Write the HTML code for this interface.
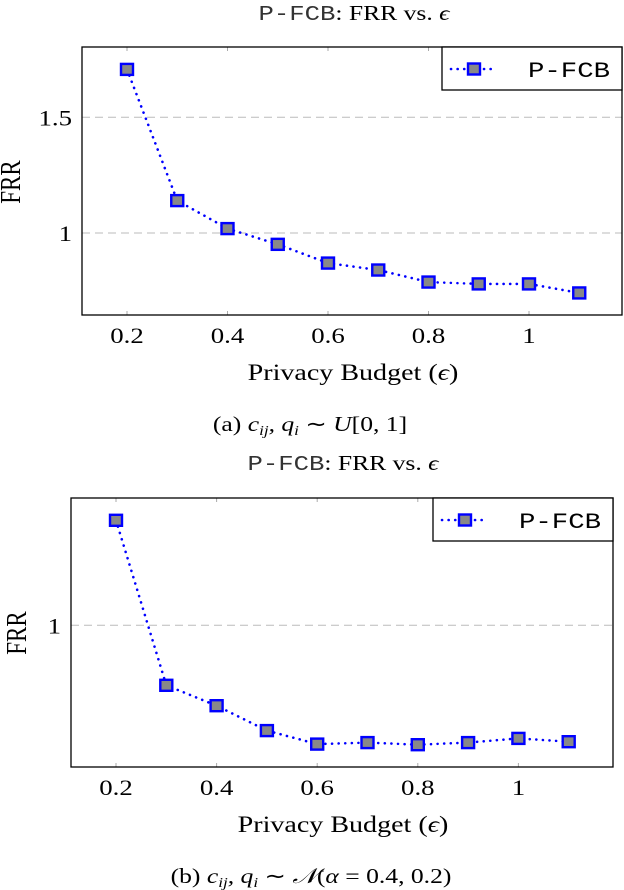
<!DOCTYPE html>
<html><head><meta charset="utf-8"><style>
body{margin:0;background:#fff;width:624px;height:890px;overflow:hidden}
svg{display:block}
text{font-family:"Liberation Serif",serif;fill:#000}
.mono{font-family:"Liberation Mono",monospace}
</style></head><body>
<svg id="svg" width="624" height="890" xmlns="http://www.w3.org/2000/svg"></svg>
<script>
const categories = [0.2,0.3,0.4,0.5,0.6,0.7,0.8,0.9,1.0,1.1];
const seriesA = [1.707,1.14,1.019,0.951,0.870,0.840,0.788,0.780,0.780,0.741];
const seriesB = [1.35,0.80,0.732,0.649,0.604,0.609,0.602,0.609,0.623,0.612];
const xTicks = [0.2,0.4,0.6,0.8,1];
const xTickLabels = ["0.2","0.4","0.6","0.8","1"];
const yTicksA = [1,1.5];
const yTickLabelsA = ["1","1.5"];
const yTicksB = [1];
const yTickLabelsB = ["1"];

const NS="http://www.w3.org/2000/svg";
const svg=document.getElementById('svg');
const SX=1.22;
function mk(tag,attrs,parent,txt){const e=document.createElementNS(NS,tag);for(const k in attrs)e.setAttribute(k,attrs[k]);if(txt!==undefined)e.textContent=txt;(parent||svg).appendChild(e);return e;}
function T(parent,x,y,anchor,size,txt,extra){
  const t=mk('text',Object.assign({x:0,y:0,'text-anchor':anchor,'font-size':size,transform:`translate(${x},${y}) scale(${SX},1)`},extra||{}),parent,txt);
  return t;
}

function chart(cfg){
  const g=mk('g',{});
  
  
  const xs=v=>cfg.x0+(v-0.2)*cfg.kx;
  const ys=v=>cfg.y1-(v-1)*cfg.ky;
  const t=T(g,cfg.titleX,cfg.titleY,'middle',21);
  
  mk('tspan',{class:'mono',fill:'#333'},t,'P-FCB');
  mk('tspan',{},t,': FRR vs. ');
  mk('tspan',{'font-style':'italic'},t,'ϵ');
  cfg.yTicks.forEach((v,i)=>{
    const y=ys(v);
    const l=mk('line',{x1:cfg.L,x2:cfg.R,y1:y,y2:y,stroke:'#bbb','stroke-dasharray':'8,5','stroke-width':1},g);
    
    const tl=T(g,cfg.L-10,y+8,'end',22,cfg.yLabels[i]);
    
  });
  xTicks.forEach((v,i)=>{
    const x=xs(v);
    mk('line',{x1:x,x2:x,y1:cfg.T,y2:cfg.T+4,stroke:'#aaa'},g);
    mk('line',{x1:x,x2:x,y1:cfg.B,y2:cfg.B-4,stroke:'#aaa'},g);
    const tl=T(g,x,cfg.B+28,'middle',22,xTickLabels[i]);
    
  });
  const box=mk('rect',{x:cfg.L,y:cfg.T,width:cfg.R-cfg.L,height:cfg.B-cfg.T,fill:'none',stroke:'#000','stroke-width':1.3},g);
  
  const pts=categories.map((c,i)=>xs(c)+','+ys(cfg.data[i])).join(' ');
  const pl=mk('polyline',{points:pts,fill:'none',stroke:'#0000ff','stroke-width':2.6,'stroke-dasharray':'0.1,6.5','stroke-linecap':'round'},g);
  
  categories.forEach((c,i)=>{
    const r=mk('rect',{x:xs(c)-6,y:ys(cfg.data[i])-5.5,width:12,height:11,fill:'#888',stroke:'#0000ff','stroke-width':2.4},g);
    
  });
  const lg=mk('g',{},g);
  
  mk('rect',{x:cfg.R-180,y:cfg.T,width:180,height:43,fill:'#fff',stroke:'#000','stroke-width':1.3},lg);
  const ly=cfg.T+22;
  mk('line',{x1:cfg.R-171,x2:cfg.R-125,y1:ly,y2:ly,stroke:'#0000ff','stroke-width':2.6,'stroke-dasharray':'0.1,6.5','stroke-linecap':'round'},lg);
  mk('rect',{x:cfg.R-154,y:ly-5.5,width:12,height:11,fill:'#888',stroke:'#0000ff','stroke-width':2.4},lg);
  mk('text',{x:cfg.R-94,y:ly+8,'font-size':22,class:'mono',fill:'#333',textLength:82,lengthAdjust:'spacingAndGlyphs'},lg,'P-FCB');
  const xl=T(g,cfg.axX,cfg.B+65,'middle',23);
  
  mk('tspan',{},xl,'Privacy Budget (');mk('tspan',{'font-style':'italic'},xl,'ϵ');mk('tspan',{},xl,')');
  const yl=mk('text',{x:0,y:0,'text-anchor':'middle','font-size':23,transform:`translate(${cfg.yLabelX},${cfg.yLabelY}) rotate(-90) scale(1,${SX})`},g,'FRR');
  
  const cap=T(g,cfg.capX,cfg.capY,'middle',21);
  
  cap.innerHTML=cfg.cap;
}

chart({name:'chart-a',L:82,R:622,T:47,B:315,x0:127,kx:502.5,y1:233,ky:231.4,data:seriesA,yTicks:yTicksA,yLabels:yTickLabelsA,
  titleX:354,titleY:20,axX:353,yLabelX:20,yLabelY:182,capX:310,capY:431,
  cap:'(a) <tspan font-style="italic">c<tspan font-size="14" dy="4">ij</tspan><tspan dy="-4">, q</tspan><tspan font-size="14" dy="4">i</tspan></tspan><tspan dy="-4"> ∼ </tspan><tspan font-style="italic">U</tspan>[0, 1]'});
chart({name:'chart-b',L:71,R:613,T:498,B:767,x0:116,kx:503,y1:625.3,ky:300,data:seriesB,yTicks:yTicksB,yLabels:yTickLabelsB,
  titleX:343,titleY:470,axX:343,yLabelX:26,yLabelY:633,capX:311,capY:883,
  cap:'(b) <tspan font-style="italic">c<tspan font-size="14" dy="4">ij</tspan><tspan dy="-4">, q</tspan><tspan font-size="14" dy="4">i</tspan></tspan><tspan dy="-4"> ∼ </tspan><tspan font-style="italic">𝒩</tspan>(<tspan font-style="italic">α</tspan> = 0.4, 0.2)'});
</script>
</body></html>
